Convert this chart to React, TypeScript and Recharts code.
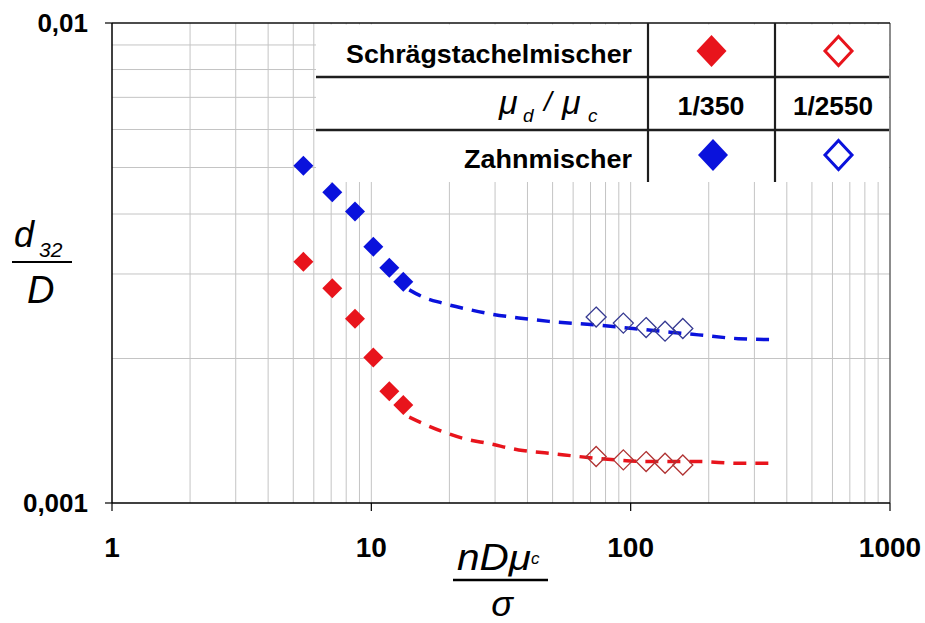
import React from "react";
import { ComposedChart, XAxis, YAxis, Scatter, Line, ReferenceLine } from "recharts";

// ---- data ----
const filledX = [5.47, 7.07, 8.65, 10.18, 11.73, 13.28];
const blueFilledY = [0.00504, 0.00444, 0.00405, 0.00342, 0.00309, 0.00289];
const redFilledY = [0.00318, 0.0028, 0.00242, 0.00201, 0.00171, 0.0016];

const openX = [73.6, 93.7, 114.7, 135.7, 158.9];
const blueOpenY = [0.00244, 0.00237, 0.00232, 0.00228, 0.00231];
const redOpenY = [0.00125, 0.00123, 0.00122, 0.00121, 0.0012];

const fitX = [14.0, 16, 18.75, 23, 28.4, 37, 48.4, 73, 120, 183, 260, 354];
const blueFitY = [0.00278, 0.00268, 0.00261, 0.00254, 0.00248, 0.00243, 0.00239, 0.00235, 0.00229, 0.00224, 0.0022, 0.00219];
const redFitY = [0.00151, 0.00146, 0.00141, 0.00136, 0.00133, 0.00129, 0.00127, 0.00124, 0.00122, 0.00122, 0.00121, 0.00121];

const xTicks = [1, 10, 100, 1000];
const yTicks = [0.001, 0.01];
const xGrid = [2, 3, 4, 5, 6, 7, 8, 9, 10, 20, 30, 40, 50, 60, 70, 80, 90, 100, 200, 300, 400, 500, 600, 700, 800, 900];
const yGrid = [0.002, 0.003, 0.004, 0.005, 0.006, 0.007, 0.008, 0.009];

const legendRow1 = "Schrägstachelmischer";
const legendRow3 = "Zahnmischer";
const ratioLabels = ["1/350", "1/2550"];

const RED = "#E8141C";
const BLUE = "#0A12DC";
const RED_OPEN = "#B03232";
const BLUE_OPEN = "#363A92";

const zip = (xs: number[], ys: number[]) => xs.map((x, i) => ({ x, y: ys[i] }));
const blueFilled = zip(filledX, blueFilledY);
const redFilled = zip(filledX, redFilledY);
const blueOpen = zip(openX, blueOpenY);
const redOpen = zip(openX, redOpenY);
const blueFit = zip(fitX, blueFitY);
const redFit = zip(fitX, redFitY);

const FONT = "'Liberation Sans', Arial, sans-serif";

const diamondPts = (cx: number, cy: number, hw: number, hh: number) =>
  `${cx},${cy - hh} ${cx + hw},${cy} ${cx},${cy + hh} ${cx - hw},${cy}`;

const makeDiamond = (fill: string, stroke: string, sw: number, h: number) => (props: any) => {
  const { cx, cy } = props;
  if (cx == null || cy == null) return <g />;
  return <polygon points={diamondPts(cx, cy, h, h)} fill={fill} stroke={stroke} strokeWidth={sw} />;
};

const Overlay = () => (
  <svg width={925} height={623} style={{ position: "absolute", left: 0, top: 0, pointerEvents: "none" }} fontFamily={FONT}>
    {/* legend table */}
    <rect x={316} y={24.5} width={573} height={157.5} fill="#ffffff" />
    <line x1={316} x2={889} y1={77} y2={77} stroke="#1e1e1e" strokeWidth={2.5} />
    <line x1={316} x2={889} y1={130} y2={130} stroke="#1e1e1e" strokeWidth={2.5} />
    <line x1={648} x2={648} y1={23} y2={182} stroke="#1e1e1e" strokeWidth={2.2} />
    <line x1={775} x2={775} y1={23} y2={182} stroke="#1e1e1e" strokeWidth={2.2} />
    <text x={632} y={63} textAnchor="end" fontSize={26} fontWeight="bold" fill="#000" textLength={286} lengthAdjust="spacingAndGlyphs">{legendRow1}</text>
    <text x={632} y={168} textAnchor="end" fontSize={26} fontWeight="bold" fill="#000" textLength={168} lengthAdjust="spacingAndGlyphs">{legendRow3}</text>
    <text x={499} y={114} fontSize={34} fontStyle="italic" fill="#000">μ</text>
    <text x={523} y={122} fontSize={19} fontStyle="italic" fill="#000">d</text>
    <text x={544} y={111} fontSize={28} fontStyle="italic" fill="#000">/</text>
    <text x={562} y={114} fontSize={34} fontStyle="italic" fill="#000">μ</text>
    <text x={588} y={122} fontSize={19} fontStyle="italic" fill="#000">c</text>
    <text x={711} y={115} textAnchor="middle" fontSize={26} fontWeight="bold" fill="#000" textLength={67} lengthAdjust="spacingAndGlyphs">{ratioLabels[0]}</text>
    <text x={833} y={115} textAnchor="middle" fontSize={26} fontWeight="bold" fill="#000" textLength={80} lengthAdjust="spacingAndGlyphs">{ratioLabels[1]}</text>
    <polygon points={diamondPts(711.5, 51, 15, 16)} fill={RED} />
    <polygon points={diamondPts(838.5, 51, 13.5, 14.5)} fill="#fff" stroke={RED} strokeWidth={3} />
    <polygon points={diamondPts(713, 155, 15, 16)} fill={BLUE} />
    <polygon points={diamondPts(838.5, 155, 13.5, 14.5)} fill="#fff" stroke={BLUE} strokeWidth={3} />

    {/* y label */}
    <text x={14} y={247} fontSize={36} fontStyle="italic" fill="#000">d</text>
    <text x={39} y={257} fontSize={21} fontStyle="italic" fill="#000">32</text>
    <line x1={12} x2={72} y1={262} y2={262} stroke="#000" strokeWidth={2} />
    <text x={27} y={303} fontSize={38} fontStyle="italic" fill="#000">D</text>

    {/* x label */}
    <text x={457} y={570} fontSize={36} fontStyle="italic" fill="#000" textLength={74} lengthAdjust="spacingAndGlyphs">nDμ</text>
    <text x={531} y={564} fontSize={17} fontStyle="italic" fill="#000">c</text>
    <line x1={453} x2={548} y1={580} y2={580} stroke="#000" strokeWidth={2.5} />
    <text x={502} y={616} textAnchor="middle" fontSize={36} fontStyle="italic" fill="#000">σ</text>
  </svg>
);

export default function App() {
  return (
    <div style={{ position: "absolute", left: 0, top: 0, width: 925, height: 623, background: "#fff", fontFamily: FONT }}>
      <ComposedChart width={925} height={623} margin={{ top: 23, right: 35, bottom: 60, left: 0 }}>
        <XAxis
          type="number"
          dataKey="x"
          scale="log"
          domain={[1, 1000]}
          ticks={xTicks}
          allowDataOverflow
          height={60}
          tickSize={8}
          tickMargin={26}
          axisLine={{ stroke: "#000", strokeWidth: 1.5 }}
          tickLine={{ stroke: "#000", strokeWidth: 1.2 }}
          tick={{ fontSize: 28, fontWeight: "bold", fill: "#000", fontFamily: FONT }}
          interval={0}
        />
        <YAxis
          type="number"
          dataKey="y"
          scale="log"
          domain={[0.001, 0.01]}
          ticks={yTicks}
          allowDataOverflow
          width={112}
          tickSize={7}
          tickMargin={17}
          axisLine={{ stroke: "#000", strokeWidth: 1.5 }}
          tickLine={{ stroke: "#000", strokeWidth: 1.2 }}
          tick={{ fontSize: 26, fontWeight: "bold", fill: "#000", fontFamily: FONT }}
          tickFormatter={(v: number) => String(v).replace(".", ",")}
          interval={0}
        />
        {xGrid.map((v) => (
          <ReferenceLine key={"gx" + v} x={v} stroke="#c4c4c4" strokeWidth={1} />
        ))}
        {yGrid.map((v) => (
          <ReferenceLine key={"gy" + v} y={v} stroke="#c4c4c4" strokeWidth={1} />
        ))}
        <ReferenceLine x={1000} stroke="#666" strokeWidth={1.5} />
        <ReferenceLine y={0.01} stroke="#111" strokeWidth={1.5} />
        <Line data={blueFit} dataKey="y" type="monotone" stroke={BLUE} strokeWidth={3.5} strokeDasharray="13 9" dot={false} isAnimationActive={false} />
        <Line data={redFit} dataKey="y" type="monotone" stroke={RED} strokeWidth={3.5} strokeDasharray="13 9" dot={false} isAnimationActive={false} />
        <Scatter data={blueOpen} dataKey="y" shape={makeDiamond("none", BLUE_OPEN, 1.3, 10)} isAnimationActive={false} />
        <Scatter data={redOpen} dataKey="y" shape={makeDiamond("none", RED_OPEN, 1.3, 10)} isAnimationActive={false} />
        <Scatter data={blueFilled} dataKey="y" shape={makeDiamond(BLUE, "none", 0, 10)} isAnimationActive={false} />
        <Scatter data={redFilled} dataKey="y" shape={makeDiamond(RED, "none", 0, 10)} isAnimationActive={false} />
      </ComposedChart>
      <Overlay />
    </div>
  );
}
